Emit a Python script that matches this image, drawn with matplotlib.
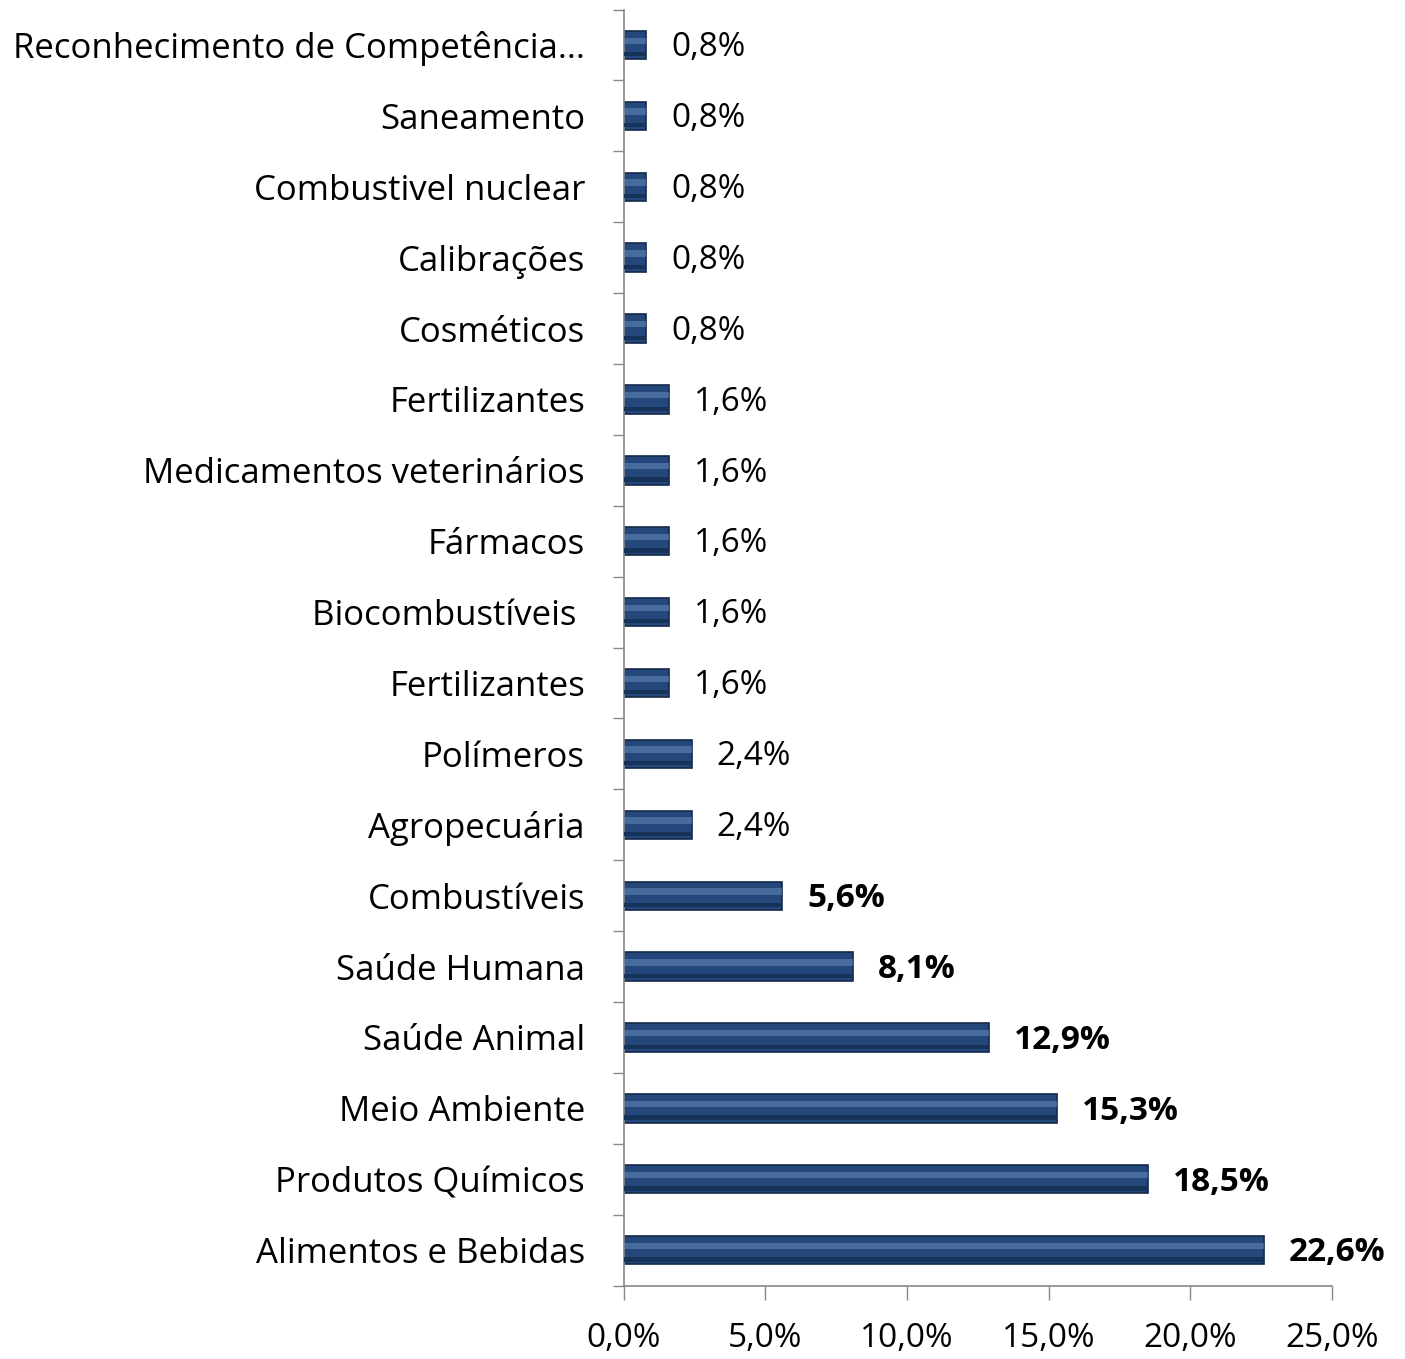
import numpy as np
import matplotlib.pyplot as plt

# ===============================================================
# data (top to bottom as in the chart)
# ===============================================================
categories = ['Reconhecimento de Competência...', 'Saneamento', 'Combustivel nuclear',
              'Calibrações', 'Cosméticos', 'Fertilizantes', 'Medicamentos veterinários',
              'Fármacos', 'Biocombustíveis ', 'Fertilizantes', 'Polímeros', 'Agropecuária',
              'Combustíveis', 'Saúde Humana', 'Saúde Animal', 'Meio Ambiente',
              'Produtos Químicos', 'Alimentos e Bebidas']
values = [0.8, 0.8, 0.8, 0.8, 0.8, 1.6, 1.6, 1.6, 1.6, 1.6, 2.4, 2.4,
          5.6, 8.1, 12.9, 15.3, 18.5, 22.6]
xticks = [0, 5, 10, 15, 20, 25]

plt.rcParams['font.family'] = ['Open Sans', 'DejaVu Sans']

fig = plt.figure(figsize=(14.05, 13.59), dpi=100)
ax = fig.add_axes([0.444, 0.054, 0.504, 0.939])

n = len(categories)
y = np.arange(n)[::-1]
h = 0.40

# bars with a simple bevel look
ax.barh(y, values, height=h, color='#24487B', edgecolor='#14294A', linewidth=1.2, zorder=2)
ax.barh(y + 0.06, values, height=0.09, color='#6388B8', alpha=0.55, linewidth=0, zorder=3)
ax.barh(y - 0.13, values, height=0.06, color='#173259', linewidth=0, zorder=3)

# value labels
for yi, v in zip(y, values):
    bold = v >= 5
    ax.annotate(f'{v:.1f}%'.replace('.', ','), (v, yi), xytext=(18, -2),
                textcoords='offset points', va='center', ha='left',
                fontsize=24, fontweight='bold' if bold else 'normal', color='black')

ax.set_xlim(0, 25)
ax.set_ylim(-0.5, n - 0.5)
ax.set_xticks(xticks)
ax.set_xticklabels([f'{t:.1f}%'.replace('.', ',') for t in xticks], fontsize=24)

# category labels, ticks at the boundaries
ax.set_yticks(y)
ax.set_yticklabels(categories, fontsize=25)
ax.set_yticks(np.arange(-0.5, n, 1), minor=True)
ax.tick_params(axis='y', which='major', length=0, pad=28)
ax.tick_params(axis='y', which='minor', length=8, color='#888888', width=1)
ax.tick_params(axis='x', length=10, color='#888888', width=1, pad=16)

for s in ['top', 'right']:
    ax.spines[s].set_visible(False)
for s in ['left', 'bottom']:
    ax.spines[s].set_color('#888888')
    ax.spines[s].set_linewidth(1.2)

fig.savefig('out.png', dpi=100)
